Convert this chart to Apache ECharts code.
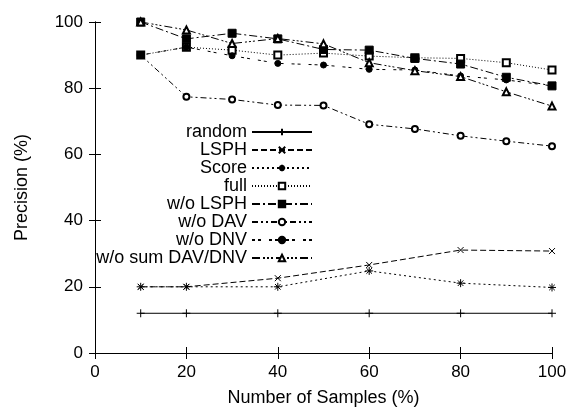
<!DOCTYPE html>
<html>
<head>
<meta charset="utf-8">
<script src="https://cdn.jsdelivr.net/npm/echarts@6/dist/echarts.min.js"></script>
<style>html,body{margin:0;padding:0;background:#fff}#c{width:572px;height:407px}</style>
</head>
<body>
<div id="c"></div>
<script>
const seriesNames = ['random','LSPH','Score','full','w/o LSPH','w/o DAV','w/o DNV','w/o sum DAV/DNV'];
const xRandom = [10,20,40,60,80,100];
const random = [12,12,12,12,12,12];
const xLSPH = [10,20,40,60,80,100];
const lsph = [20,20,22.6,26.6,31.1,30.8];
const xScore = [10,20,40,60,80,100];
const score = [20,20,20,24.8,21.1,19.8];
const xFull = [10,20,30,40,50,60,70,80,90,100];
const full = [90,92.4,91.5,90.0,90.6,89.7,89.2,89.0,87.7,85.5];
const woLSPH = [100,94.9,96.6,94.9,91.7,91.5,89.0,87.3,83.3,80.7];
const woDAV = [90,77.4,76.6,74.9,74.8,69.1,67.7,65.6,64.0,62.5];
const woDNV = [90,92.4,89.8,87.5,87.0,85.7,85.5,83.7,82.5,80.7];
const woSum = [100,97.6,93.5,95.0,93.4,87.7,85.3,83.5,78.9,74.6];
const xTicks = [0,20,40,60,80,100];
const yTicks = [0,20,40,60,80,100];

const pair = (xs, ys) => xs.map((x, i) => [x, ys[i]]);
const FONT = 'Liberation Sans';
const styles = [
  {data: pair(xRandom, random), symbol: 'path://M0,5L10,5M5,0L5,10', size: 8, dash: 'solid'},
  {data: pair(xLSPH, lsph), symbol: 'path://M0,0L10,10M10,0L0,10', size: 6, dash: [6,3]},
  {data: pair(xScore, score), symbol: 'path://M0,5L10,5M5,0L5,10M1.5,1.5L8.5,8.5M8.5,1.5L1.5,8.5', size: 8, dash: [2,3]},
  {data: pair(xFull, full), symbol: 'emptyRect', size: 7, dash: [1,2]},
  {data: pair(xFull, woLSPH), symbol: 'rect', size: 8, dash: [8,3,2,3]},
  {data: pair(xFull, woDAV), symbol: 'emptyCircle', size: 6, dash: [6,3,2,3,2,3]},
  {data: pair(xFull, woDNV), symbol: 'circle', size: 6, dash: [3,3,3,8]},
  {data: pair(xFull, woSum), symbol: 'emptyTriangle', size: 7, dash: [8,3,2,2,2,2,2,3]}
];

const series = seriesNames.map((name, i) => ({
  name: name,
  type: 'line',
  xAxisIndex: 0,
  yAxisIndex: 0,
  data: styles[i].data,
  symbol: styles[i].symbol,
  symbolSize: styles[i].size,
  showAllSymbol: true,
  animation: false,
  lineStyle: {color: '#000', width: 1, type: styles[i].dash},
  itemStyle: {color: '#000', borderColor: '#000', borderWidth: 1}
}));

const legends = seriesNames.map((name, i) => ({
  data: [name],
  orient: 'horizontal',
  align: 'right',
  right: 259,
  top: Math.round(131.7 + 18.05 * i - 9),
  padding: 0,
  itemWidth: 60,
  itemHeight: 8,
  selectedMode: false,
  textStyle: {fontFamily: FONT, fontSize: 18, color: '#000', lineHeight: 18, padding: [0, 0, 0, 0]}
}));

const axisCommon = {
  type: 'value', min: 0, max: 100, interval: 20,
  axisLine: {show: true, lineStyle: {color: '#000', width: 1}},
  axisTick: {show: true, inside: true, length: 6, lineStyle: {color: '#000'}},
  splitLine: {show: false}
};

const option = {
  backgroundColor: '#fff',
  animation: false,
  grid: {left: 95, right: 20, top: 22, bottom: 54, containLabel: false, outerBoundsMode: 'none'},
  legend: legends,
  xAxis: [
    Object.assign({}, axisCommon, {
      position: 'bottom',
      name: 'Number of Samples (%)', nameLocation: 'middle', nameGap: 36,
      nameTextStyle: {fontFamily: FONT, fontSize: 18, color: '#000'},
      axisLabel: {fontFamily: FONT, fontSize: 17, color: '#000', margin: 11,
        formatter: v => xTicks.includes(v) ? String(v) : ''}
    }),
    Object.assign({}, axisCommon, {position: 'top', axisLabel: {show: false}})
  ],
  yAxis: [
    Object.assign({}, axisCommon, {
      position: 'left',
      name: 'Precision (%)', nameLocation: 'middle', nameGap: 64, nameRotate: 90,
      nameTextStyle: {fontFamily: FONT, fontSize: 18, color: '#000'},
      axisLabel: {fontFamily: FONT, fontSize: 17, color: '#000', margin: 12,
        formatter: v => yTicks.includes(v) ? String(v) : ''}
    }),
    Object.assign({}, axisCommon, {position: 'right', axisLabel: {show: false}})
  ],
  series: series
};

const chart = echarts.init(document.getElementById('c'), null, {renderer: 'canvas'});
chart.setOption(option);
</script>
</body>
</html>
